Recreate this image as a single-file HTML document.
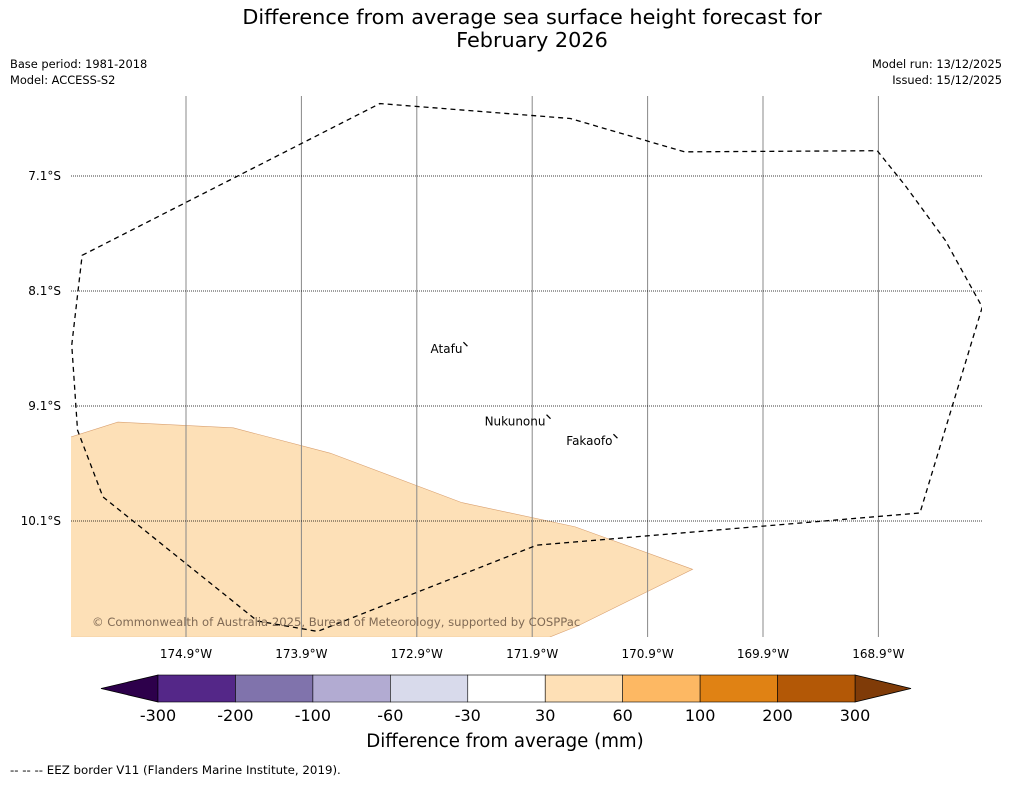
<!DOCTYPE html>
<html><head><meta charset="utf-8"><style>
body{margin:0;background:#fff;font-family:"Liberation Sans","DejaVu Sans",sans-serif;}
</style></head><body>
<svg width="1011" height="781" viewBox="0 0 1011 781" xmlns="http://www.w3.org/2000/svg" font-family="DejaVu Sans, Liberation Sans, sans-serif">
<rect width="1011" height="781" fill="#fff"/>
<text x="532" y="24" font-size="20.8" text-anchor="middle">Difference from average sea surface height forecast for</text>
<text x="532" y="47" font-size="20.8" text-anchor="middle">February 2026</text>
<text x="10" y="68" font-size="11.4">Base period: 1981-2018</text>
<text x="10" y="84" font-size="11.4">Model: ACCESS-S2</text>
<text x="1002" y="68" font-size="11.4" text-anchor="end">Model run: 13/12/2025</text>
<text x="1002" y="84" font-size="11.4" text-anchor="end">Issued: 15/12/2025</text>
<g id="map"></g>
<g id="cbar"></g>
<text x="505" y="747" font-size="18.2" text-anchor="middle">Difference from average (mm)</text>
<text x="10" y="774" font-size="11.8">--  --  -- EEZ border V11 (Flanders Marine Institute, 2019).</text>
</svg>
<script>
const lonTicks=[174.9,173.9,172.9,171.9,170.9,169.9,168.9];
const latTicks=[7.1,8.1,9.1,10.1];
const eezLon=[175.80,173.22,171.57,170.58,168.91,168.67,168.32,168.00,168.54,171.86,173.76,174.28,175.62,175.84,175.89];
const eezLat=[7.79,6.47,6.60,6.89,6.88,7.18,7.66,8.24,10.03,10.31,11.06,10.97,9.89,9.31,8.57];
const anomLon=[175.90,175.49,174.49,173.65,172.51,171.53,170.51,171.50,171.75,175.90];
const anomLat=[9.37,9.24,9.29,9.51,9.94,10.15,10.52,11.01,11.11,11.11];
const islandNames=["Atafu","Nukunonu","Fakaofo"];
const islandLon=[172.47,171.75,171.17];
const islandLat=[8.58,9.21,9.38];
const cbLevels=["-300","-200","-100","-60","-30","30","60","100","200","300"];
const cbColors=["#542788","#8073ac","#b2abd2","#d8daeb","#ffffff","#fee0b6","#fdb863","#e08214","#b35806"];
const cbMin="#2d004b", cbMax="#7f3b08";
const NS="http://www.w3.org/2000/svg";
const X=lon=>186+(174.9-lon)*115.4;
const Y=lat=>176+(lat-7.1)*115;
function mk(t,a,p){const e=document.createElementNS(NS,t);for(const k in a)e.setAttribute(k,a[k]);p.appendChild(e);return e;}
const map=document.getElementById('map');
const defs=mk('defs',{},map);
const cp=mk('clipPath',{id:'pc'},defs);mk('rect',{x:71,y:96,width:911,height:541},cp);
const g=mk('g',{'clip-path':'url(#pc)'},map);
const an=mk('polygon',{points:anomLon.map((l,i)=>X(l)+','+Y(anomLat[i])).join(' '),fill:'#fde0b7',stroke:'#d9a070','stroke-width':0.6},g);


lonTicks.forEach(l=>{
 const ln=mk('line',{x1:X(l),x2:X(l),y1:96,y2:637,stroke:'#888','stroke-width':1},g);
 
 
 const t=mk('text',{x:X(l),y:658,'font-size':12,'text-anchor':'middle'},map);t.textContent=l.toFixed(1)+'°W';
 
 
});
latTicks.forEach(l=>{
 const ln=mk('line',{x1:71,x2:982,y1:Y(l),y2:Y(l),stroke:'#000','stroke-width':0.8,'stroke-dasharray':'1,1'},g);
 
 
 const t=mk('text',{x:61,y:Y(l)+4,'font-size':12,'text-anchor':'end'},map);t.textContent=l.toFixed(1)+'°S';
 
 
});
const ez=mk('polygon',{points:eezLon.map((l,i)=>X(l)+','+Y(eezLat[i])).join(' '),fill:'none',stroke:'#000','stroke-width':1.3,'stroke-dasharray':'5,4'},g);


islandNames.forEach((n,i)=>{
 const x=X(islandLon[i]),y=Y(islandLat[i]);
 const m=mk('line',{x1:x-3,y1:y-4,x2:x+1,y2:y,stroke:'#000','stroke-width':1.3},map);
 
 
 const t=mk('text',{x:x-4,y:y+7,'font-size':12,'text-anchor':'end'},map);t.textContent=n;
 
 
});
const cr=mk('text',{x:92,y:626,'font-size':11.6,fill:'#806a55'},map);cr.textContent='© Commonwealth of Australia 2025, Bureau of Meteorology, supported by COSPPac';


const cb=document.getElementById('cbar');
const bx0=158,bx1=855,by=675,bh=27,bw=(bx1-bx0)/cbColors.length;
const lt=mk('polygon',{points:`101,${by+bh/2} ${bx0},${by} ${bx0},${by+bh}`,fill:cbMin,stroke:'#000','stroke-width':0.8},cb);


const rt=mk('polygon',{points:`911,${by+bh/2} ${bx1},${by} ${bx1},${by+bh}`,fill:cbMax,stroke:'#000','stroke-width':0.8},cb);


cbColors.forEach((c,i)=>{
 const r=mk('rect',{x:bx0+i*bw,y:by,width:bw,height:bh,fill:c,stroke:'#000','stroke-width':0.6},cb);
 
 
});
cbLevels.forEach((v,i)=>{
 const t=mk('text',{x:bx0+i*bw,y:721,'font-size':16,'text-anchor':'middle'},cb);t.textContent=v;
 
 
});
</script>
</body></html>
